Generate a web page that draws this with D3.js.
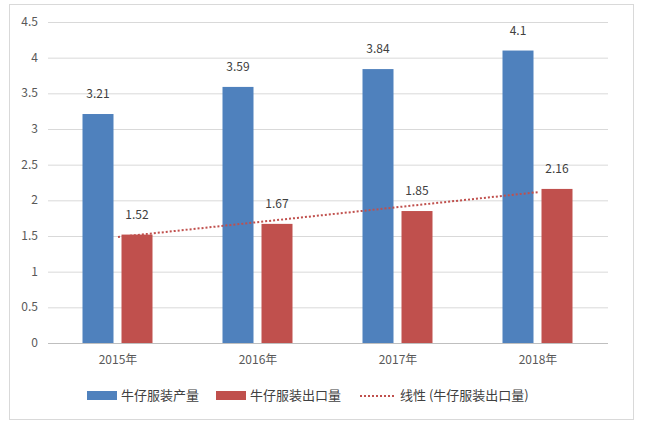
<!DOCTYPE html>
<html><head><meta charset="utf-8">
<script src="https://cdn.jsdelivr.net/npm/d3@7"></script>
<style>body{margin:0;background:#fff;font-family:"Noto Sans CJK SC","Liberation Sans",sans-serif;}</style>
</head><body><svg id="c" width="645" height="426"></svg>
<script>
const categories = ["2015年","2016年","2017年","2018年"];
const production = [3.21,3.59,3.84,4.1];
const exports_ = [1.52,1.67,1.85,2.16];
const yTicks = [0,0.5,1,1.5,2,2.5,3,3.5,4,4.5];
const seriesNames = ["牛仔服装产量","牛仔服装出口量","线性 (牛仔服装出口量)"];

const svg = d3.select("#c");
svg.append("rect").attr("x",9.5).attr("y",4.5).attr("width",624).attr("height",415).attr("fill","#fff").attr("stroke","#d9d9d9");
const x = d3.scaleBand().domain(categories).range([48,608]);
const y = d3.scaleLinear().domain([0,4.5]).range([343,22]);
const g = svg.append("g");
yTicks.forEach(t=>{
  g.append("line").attr("x1",48).attr("x2",608).attr("y1",y(t)+0.5).attr("y2",y(t)+0.5).attr("stroke",t===0?"#bfbfbf":"#d9d9d9");
  g.append("text").attr("x",38).attr("y",y(t)+4).attr("text-anchor","end").attr("font-size",12).attr("fill","#595959").text(t);
});
categories.forEach(c=>{
  g.append("text").attr("x",x(c)+x.bandwidth()/2).attr("y",364).attr("text-anchor","middle").attr("font-size",12).attr("fill","#595959").text(c);
});
const bw=31;
const cols=["#4f81bd","#c0504d"];
[production,exports_].forEach((arr,si)=>{
  arr.forEach((v,i)=>{
    const cx = x(categories[i])+x.bandwidth()/2 + (si===0?-20:19);
    g.append("rect").attr("x",cx-bw/2).attr("y",y(v)).attr("width",bw).attr("height",y(0)-y(v)).attr("fill",cols[si]);
    g.append("text").attr("x",cx).attr("y",y(v)-16).attr("text-anchor","middle").attr("font-size",12).attr("fill","#404040").text(v);
  });
});
// linear trendline (least squares on export series)
const n=exports_.length, xs=d3.range(1,n+1);
const mx=d3.mean(xs), my=d3.mean(exports_);
const slope=d3.sum(xs.map((xi,i)=>(xi-mx)*(exports_[i]-my)))/d3.sum(xs.map(xi=>(xi-mx)**2));
const ic=my-slope*mx;
const cx0=x(categories[0])+x.bandwidth()/2, cx1=x(categories[n-1])+x.bandwidth()/2;
g.append("line").attr("x1",cx0).attr("x2",cx1).attr("y1",y(ic+slope*1)).attr("y2",y(ic+slope*n))
 .attr("stroke","#c0504d").attr("stroke-width",2).attr("stroke-dasharray","2,2");
// legend
const lg=svg.append("g");
lg.append("rect").attr("x",87).attr("y",391).attr("width",30).attr("height",9).attr("fill",cols[0]);
lg.append("text").attr("x",121).attr("y",400).attr("font-size",13).attr("fill","#404040").text(seriesNames[0]);
lg.append("rect").attr("x",216).attr("y",391).attr("width",30).attr("height",9).attr("fill",cols[1]);
lg.append("text").attr("x",250).attr("y",400).attr("font-size",13).attr("fill","#404040").text(seriesNames[1]);
lg.append("line").attr("x1",360).attr("x2",395).attr("y1",396).attr("y2",396).attr("stroke","#c0504d").attr("stroke-width",2).attr("stroke-dasharray","2,2");
lg.append("text").attr("x",400).attr("y",400).attr("font-size",13).attr("fill","#404040").text(seriesNames[2]);
</script></body></html>
